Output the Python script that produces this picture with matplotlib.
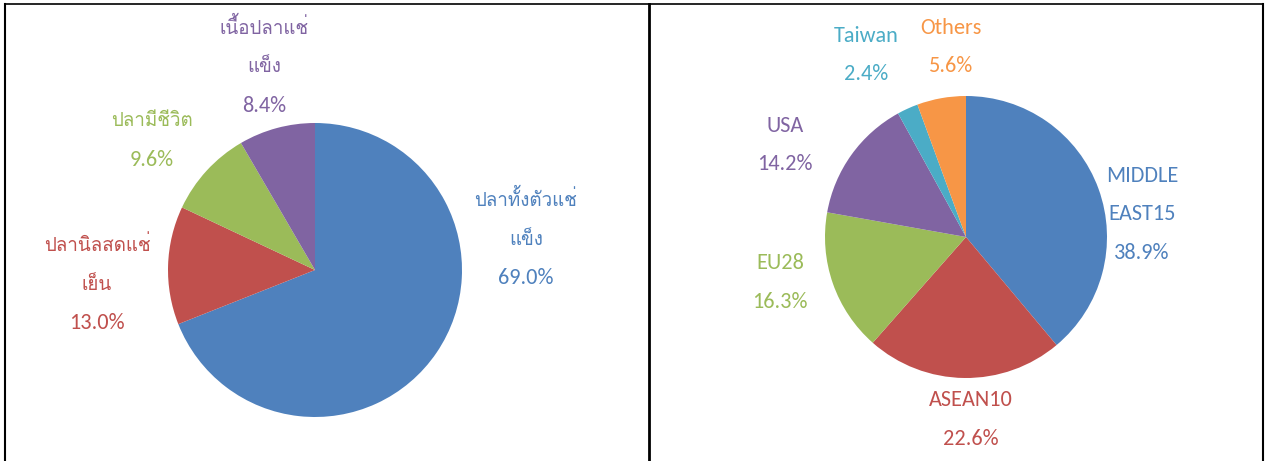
import matplotlib
matplotlib.use("Agg")
import matplotlib.pyplot as plt
from matplotlib import font_manager as fm

# ---------------- data ----------------
left_labels = ["ปลาทั้งตัวแช่\nแข็ง", "ปลานิลสดแช่\nเย็น", "ปลามีชีวิต", "เนื้อปลาแช่\nแข็ง"]
left_values = [69.0, 13.0, 9.6, 8.4]

right_labels = ["MIDDLE\nEAST15", "ASEAN10", "EU28", "USA", "Taiwan", "Others"]
right_values = [38.9, 22.6, 16.3, 14.2, 2.4, 5.6]

# ---------------- style ----------------
left_colors = ["#4F81BD", "#C0504D", "#9BBB59", "#8064A2"]
right_colors = ["#4F81BD", "#C0504D", "#9BBB59", "#8064A2", "#4BACC6", "#F79646"]

names = sorted({f.name for f in fm.fontManager.ttflist})
def pick(prefixes):
    for p in prefixes:
        if p in names:
            return p
        for n in names:
            if n.startswith(p):
                return n
    return None

latin = pick(["Carlito", "Lato", "Open Sans", "DejaVu Sans"])
thai = pick(["Loma", "Noto Sans Thai Loo", "Noto Sans Thai", "Sarabun"])
LATIN_FAM = [f for f in [latin, "DejaVu Sans"] if f]
THAI_FAM = [f for f in [thai, latin, "DejaVu Sans"] if f]
plt.rcParams['font.family'] = LATIN_FAM

W, H = 1266, 461
fig = plt.figure(figsize=(W / 100, H / 100), dpi=100)

def px_axes(cx, cy, r):
    return fig.add_axes([(cx - r) / W, (H - cy - r) / H, 2 * r / W, 2 * r / H])

def draw_pie(ax, values, colors):
    ax.pie(values, colors=colors, startangle=90, counterclock=False,
           wedgeprops=dict(linewidth=0))
    ax.set_xlim(-1, 1)
    ax.set_ylim(-1, 1)
    ax.set_aspect("equal")
    ax.axis("off")

axL = px_axes(315, 270, 147)
draw_pie(axL, left_values, left_colors)
axR = px_axes(966, 237, 141)
draw_pie(axR, right_values, right_colors)

FS_LAT = 16
FS_THAI = 13.5
LINE = 38.5  # px between lines

def is_thai(s):
    return any(0x0E00 <= ord(ch) <= 0x0E7F for ch in s)

def put_label(cx, ytop, label, value, color):
    lines = label.split("\n") + ["%.1f%%" % value]
    for i, ln in enumerate(lines):
        th = is_thai(ln)
        base = ytop + i * LINE + (6 if th else 7)
        fig.text(cx / W, 1 - base / H, ln, color=color,
                 fontsize=FS_THAI if th else FS_LAT,
                 family=THAI_FAM if th else LATIN_FAM,
                 ha="center", va="baseline")

# label centres (px): x centre, y of first line
left_pos = [(526, 200), (97, 245), (152, 120), (264, 28)]
right_pos = [(1142, 175), (971, 399), (780, 262), (785, 125), (866, 35), (951, 27)]

for (x, y), lab, v, c in zip(left_pos, left_labels, left_values, left_colors):
    put_label(x, y, lab, v, c)
for (x, y), lab, v, c in zip(right_pos, right_labels, right_values, right_colors):
    put_label(x, y, lab, v, c)

# panel borders
def vline(x, lw):
    fig.add_artist(plt.Line2D([x / W, x / W], [0, 1 - 4 / H], color="black", lw=lw))
fig.add_artist(plt.Line2D([5 / W, 1263 / W], [1 - 4 / H, 1 - 4 / H], color="black", lw=1.2))
vline(5, 1.5)
vline(649, 2.0)
vline(1263, 1.5)

fig.savefig("out.png", dpi=100)
